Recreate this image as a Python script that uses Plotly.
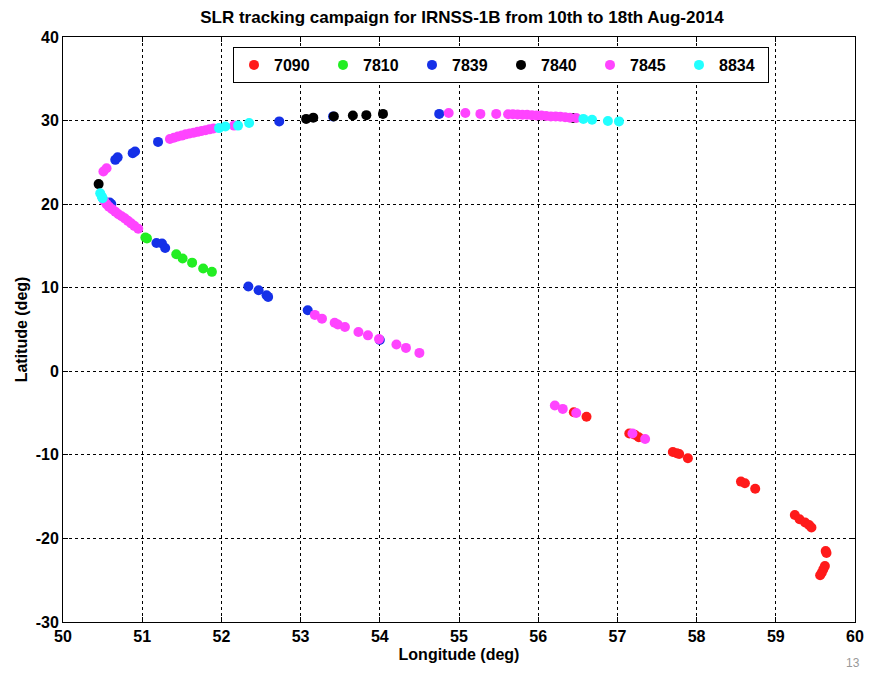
import plotly.graph_objects as go

# ---- data (longitude, latitude in degrees) ----
lon_7090 = [56.45, 56.61, 57.15, 57.22, 57.27, 57.70, 57.75, 57.78, 57.89, 58.56, 58.61, 58.74,
            59.24, 59.30, 59.37, 59.42, 59.45, 59.63, 59.64, 59.62, 59.60, 59.58, 59.56]
lat_7090 = [-4.9, -5.45, -7.45, -7.6, -7.9, -9.65, -9.8, -9.9, -10.4, -13.2, -13.4, -14.05,
            -17.2, -17.7, -18.1, -18.4, -18.7, -21.5, -21.75, -23.3, -23.7, -24.1, -24.4]

lon_7810 = [51.04, 51.06, 51.43, 51.51, 51.63, 51.77, 51.88]
lat_7810 = [16.0, 15.9, 14.0, 13.5, 13.0, 12.3, 11.9]

lon_7839 = [51.18, 51.25, 51.29, 52.34, 52.47, 52.57, 52.59, 53.09, 54.0,
            51.20, 50.88, 50.91, 50.66, 50.69, 52.73, 53.41, 54.75, 50.59, 50.61]
lat_7839 = [15.35, 15.3, 14.75, 10.15, 9.7, 9.1, 8.9, 7.3, 3.75,
            27.45, 26.1, 26.3, 25.3, 25.6, 29.9, 30.5, 30.8, 20.2, 20.0]

lon_7840 = [50.45, 53.07, 53.16, 53.42, 53.66, 53.83, 54.04, 56.44]
lat_7840 = [22.4, 30.2, 30.35, 30.5, 30.6, 30.65, 30.8, 30.3]

lon_7845 = [51.35, 51.40, 51.45, 51.50, 51.55, 51.60, 51.65, 51.70, 51.75, 51.80, 51.85, 51.90, 52.16,
            50.51, 50.55,
            50.52, 50.55, 50.58, 50.62, 50.66, 50.70, 50.74, 50.78, 50.82, 50.86, 50.90, 50.95,
            53.18, 53.27, 53.43, 53.47, 53.56, 53.73, 53.85, 53.99, 54.21, 54.33, 54.50,
            54.87, 55.08, 55.27, 55.47,
            55.62, 55.68, 55.74, 55.80, 55.86, 55.92, 55.98, 56.04, 56.10, 56.16, 56.22, 56.28, 56.34, 56.40, 56.48,
            56.21, 56.31, 56.48, 57.19, 57.35]
lat_7845 = [27.8, 27.95, 28.1, 28.2, 28.35, 28.45, 28.55, 28.65, 28.75, 28.85, 28.95, 29.05, 29.4,
            23.9, 24.3,
            20.4, 20.0, 19.7, 19.4, 19.1, 18.8, 18.55, 18.3, 18.0, 17.7, 17.4, 17.05,
            6.75, 6.3, 5.8, 5.6, 5.3, 4.7, 4.3, 3.85, 3.2, 2.8, 2.2,
            30.9, 30.9, 30.8, 30.8,
            30.75, 30.75, 30.72, 30.7, 30.7, 30.65, 30.62, 30.6, 30.55, 30.5, 30.48, 30.45, 30.4, 30.35, 30.3,
            -4.1, -4.5, -5.0, -7.45, -8.1]

lon_8834 = [50.47, 50.49, 50.50, 51.97, 52.05, 52.21, 52.35, 56.57, 56.68, 56.88, 57.02]
lat_8834 = [21.3, 20.9, 20.7, 29.1, 29.3, 29.4, 29.7, 30.2, 30.1, 29.95, 29.9]

stations = ["7090", "7810", "7839", "7840", "7845", "8834"]
lons = [lon_7090, lon_7810, lon_7839, lon_7840, lon_7845, lon_8834]
lats = [lat_7090, lat_7810, lat_7839, lat_7840, lat_7845, lat_8834]
colors = ["#ff1a1a", "#22ee22", "#1530e8", "#000000", "#ff44ff", "#22ffff"]

x_ticks = list(range(50, 61))
y_ticks = list(range(-30, 41, 10))

FONT = "Liberation Sans Narrow, Arial Narrow, Liberation Sans, Arial, sans-serif"

fig = go.Figure()
for name, x, y, c in zip(stations, lons, lats, colors):
    fig.add_trace(go.Scatter(x=x, y=y, mode="markers", name=name,
                             marker=dict(color=c, size=10, line=dict(width=0))))

axis_common = dict(showgrid=True, gridcolor="#000000", griddash="dot", gridwidth=1,
                   showline=True, linecolor="#000000", linewidth=1, mirror="ticks",
                   ticks="inside", ticklen=5, tickcolor="#000000", zeroline=False,
                   automargin=False,
                   tickfont=dict(family=FONT, size=16, color="#000000", weight="bold"))

fig.update_xaxes(range=[50, 60], tickvals=x_ticks, ticktext=[str(v) for v in x_ticks],
                 title=dict(text="<b>Longitude (deg)</b>", font=dict(family=FONT, size=16, color="#000"),
                            standoff=4),
                 **axis_common)
fig.update_yaxes(range=[-30, 40], tickvals=y_ticks, ticktext=[str(v) for v in y_ticks],
                 title=dict(text="<b>Latitude (deg)</b>", font=dict(family=FONT, size=16, color="#000"),
                            standoff=4),
                 **axis_common)

# the page body adds an 8px offset; plot area should land at page x 63..855, y 37..622
OFF = 8
PLOT_L, PLOT_R, PLOT_T, PLOT_B = 63 - OFF, 855 - OFF, 37 - OFF, 622 - OFF
PW, PH = PLOT_R - PLOT_L, PLOT_B - PLOT_T

fig.update_layout(
    width=873, height=675,
    margin=dict(l=PLOT_L, r=873 - PLOT_R, t=PLOT_T, b=675 - PLOT_B),
    paper_bgcolor="white", plot_bgcolor="white",
    title=dict(text="<b>SLR tracking campaign for IRNSS-1B from 10th to 18th Aug-2014</b>",
               x=(462 - OFF) / 873, xanchor="center", y=1 - (17 - OFF) / 675, yanchor="middle",
               font=dict(family=FONT, size=17, color="#000")),
    showlegend=True,
    legend=dict(orientation="h", x=(233 - OFF - PLOT_L) / PW, xanchor="left",
                y=1 - (47 - OFF - PLOT_T) / PH, yanchor="top",
                bgcolor="white", bordercolor="#000", borderwidth=1,
                entrywidth=44, entrywidthmode="pixels", itemsizing="trace",
                font=dict(family=FONT, size=16, color="#000", weight="bold")),
    annotations=[dict(text="13", x=(862 - OFF - PLOT_L) / PW, y=-(663 - OFF - PLOT_B) / PH,
                      xref="paper", yref="paper", showarrow=False,
                      xanchor="right", yanchor="middle",
                      font=dict(family="Liberation Sans", size=12, color="#999"))],
)

fig.write_html("out.html")
